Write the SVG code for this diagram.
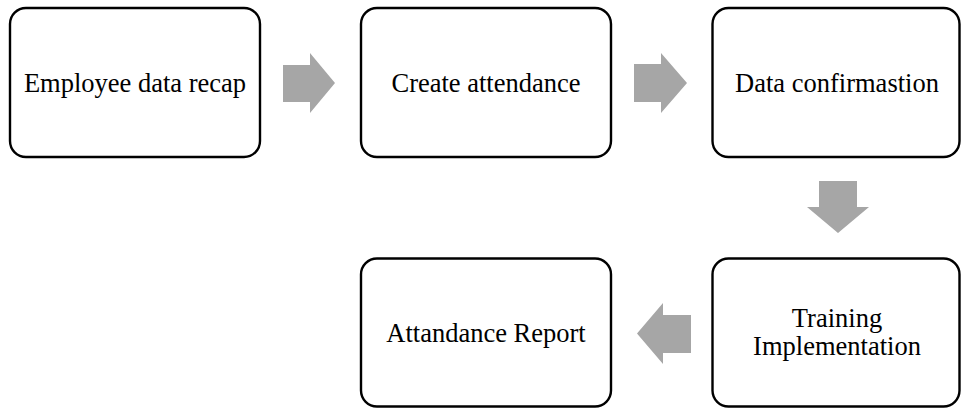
<svg xmlns="http://www.w3.org/2000/svg" width="961" height="408" viewBox="0 0 961 408">
  <style>
    .box { fill: #ffffff; stroke: #000000; stroke-width: 2.4; }
    .label { font-family: "Liberation Serif", "Times New Roman", serif; font-size: 26.5px; fill: #000000; text-anchor: middle; }
    .flow { fill: #a6a6a6; stroke: none; }
  </style>
  <rect x="0" y="0" width="961" height="408" fill="#ffffff"/>

  <g id="node-employee-data-recap">
    <rect class="box" x="10" y="8" width="250" height="149" rx="16" ry="16"/>
    <text class="label" x="135" y="91.5">Employee data recap</text>
  </g>

  <g id="node-create-attendance">
    <rect class="box" x="361" y="8" width="250" height="149" rx="16" ry="16"/>
    <text class="label" x="486" y="91.5">Create attendance</text>
  </g>

  <g id="node-data-confirmastion">
    <rect class="box" x="712.5" y="8" width="247" height="149" rx="16" ry="16"/>
    <text class="label" x="837" y="91.5">Data confirmastion</text>
  </g>

  <g id="node-training-implementation">
    <rect class="box" x="712.5" y="258.5" width="247" height="148" rx="16" ry="16"/>
    <text class="label" x="837" y="327">Training</text>
    <text class="label" x="837" y="355">Implementation</text>
  </g>

  <g id="node-attandance-report">
    <rect class="box" x="361" y="258.5" width="250" height="148" rx="16" ry="16"/>
    <text class="label" x="486" y="341.5">Attandance Report</text>
  </g>

  <g id="connectors">
    <polygon class="flow" points="283,65 310,65 310,53 335,83 310,113 310,102 283,102"/>
    <polygon class="flow" points="634,64 661,64 661,53 687,83 661,113 661,102 634,102"/>
    <polygon class="flow" points="819,181 857,181 857,207 869,207 838,233 807,207 819,207"/>
    <polygon class="flow" points="691,315 663,315 663,303 637,333.5 663,364 663,353 691,353"/>
  </g>
</svg>
